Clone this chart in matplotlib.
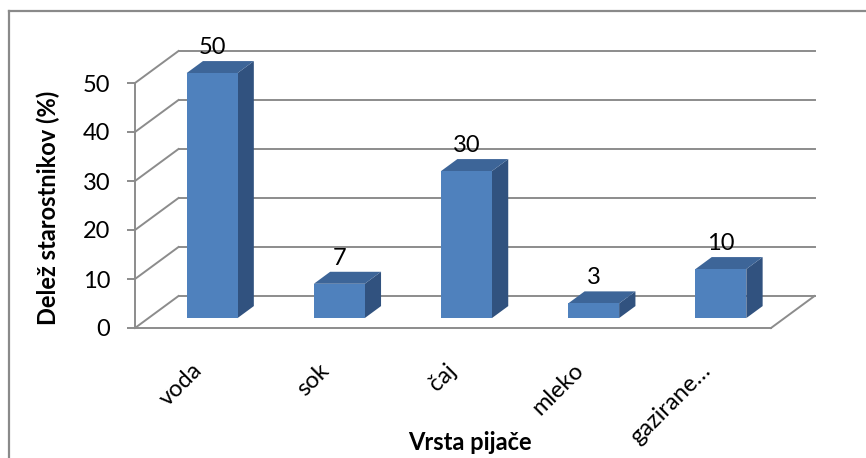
import matplotlib
matplotlib.use("Agg")
import matplotlib.pyplot as plt
from matplotlib.patches import Polygon
from matplotlib.lines import Line2D

plt.rcParams['font.family'] = ['Lato', 'DejaVu Sans']

categories = ["voda", "sok", "čaj", "mleko", "gazirane…"]
values = [50, 7, 30, 3, 10]
y_ticks = [0, 10, 20, 30, 40, 50]
y_title = "Delež starostnikov (%)"
x_title = "Vrsta pijače"

FRONT = "#4F81BD"
TOP = "#3D6598"
SIDE = "#31527F"
GRID = "#8C8C8C"
FS = 17

W, H = 866, 458
fig = plt.figure(figsize=(W / 100, H / 100), dpi=100)
fig.patch.set_facecolor("white")

# front plane of the 3-D box
ax = fig.add_axes([135 / W, (H - 328) / H, 636 / W, 245 / H])
ax.set_xlim(-0.5, len(categories) - 0.5)
ax.set_ylim(0, 50)
ax.set_facecolor("none")

# depth of the box (pixels) converted to data units
DX, DY = 43.5, 32.0
fig.canvas.draw()
p0 = ax.transData.transform((0, 0))
ux = ax.transData.transform((1, 0))[0] - p0[0]
uy = ax.transData.transform((0, 1))[1] - p0[1]
ddx, ddy = DX / ux, DY / uy

x_lo, x_hi = -0.5, len(categories) - 0.5

# back wall gridlines and left wall diagonals
for v in y_ticks:
    ax.add_line(Line2D([x_lo + ddx, x_hi + ddx], [v + ddy, v + ddy],
                       color=GRID, lw=1.4, clip_on=False, zorder=1))
    ax.add_line(Line2D([x_lo, x_lo + ddx], [v, v + ddy],
                       color=GRID, lw=1.4, clip_on=False, zorder=1))
# right edge of the floor
ax.add_line(Line2D([x_hi, x_hi + ddx], [0, ddy],
                   color=GRID, lw=1.4, clip_on=False, zorder=1))

# bars, placed in the middle of the depth
f1, f2 = 0.31, 0.685
bw = 0.40
bx = f1 * ddx
by = f1 * ddy
bdx = (f2 - f1) * ddx
bdy = (f2 - f1) * ddy
xs = [i + bx for i in range(len(categories))]
ax.bar(xs, values, width=bw, bottom=by, color=FRONT, zorder=3,
       clip_on=False, linewidth=0)
for x, v in zip(xs, values):
    x0, x1 = x - bw / 2, x + bw / 2
    top = by + v
    side = Polygon([(x1, by), (x1, top), (x1 + bdx, top + bdy), (x1 + bdx, by + bdy)],
                   closed=True, facecolor=SIDE, edgecolor="none", zorder=2.5,
                   clip_on=False)
    lid = Polygon([(x0, top), (x1, top), (x1 + bdx, top + bdy), (x0 + bdx, top + bdy)],
                  closed=True, facecolor=TOP, edgecolor="none", zorder=2.5,
                  clip_on=False)
    ax.add_patch(side)
    ax.add_patch(lid)
    ax.annotate(str(v), xy=(x, top), xytext=(0, 25.5 * 0.72),
                textcoords="offset points", ha="center", va="center",
                fontsize=FS, color="black", zorder=4, annotation_clip=False)

# axes styling
for s in ("top", "right"):
    ax.spines[s].set_visible(False)
for s in ("left", "bottom"):
    ax.spines[s].set_color(GRID)
    ax.spines[s].set_linewidth(1.4)
ax.set_yticks(y_ticks)
ax.set_yticklabels([str(t) for t in y_ticks], fontsize=FS)
ax.tick_params(axis="y", length=5.8, width=1.4, color=GRID, pad=12)
ax.set_xticks(range(len(categories)))
ax.set_xticklabels(categories, fontsize=FS)
ax.tick_params(axis="x", length=0, pad=28)
plt.setp(ax.get_xticklabels(), rotation=45, ha="right", va="center",
         rotation_mode="anchor")

ax.set_ylabel(y_title, fontsize=FS, fontweight="bold")
ax.yaxis.set_label_coords((48 - 135) / 636, (328 - 208) / 245)
ax.yaxis.label.set_verticalalignment("center")
ax.set_xlabel(x_title, fontsize=FS, fontweight="bold")
ax.xaxis.set_label_coords((470 - 135) / 636, (328 - 442) / 245)
ax.xaxis.label.set_verticalalignment("center")

# outer chart frame (left and top edges)
fig.add_artist(Line2D([8.5 / W, 8.5 / W], [0, (H - 11) / H], color="#8A8A8A",
                      lw=1.6, transform=fig.transFigure))
fig.add_artist(Line2D([8.5 / W, 1], [(H - 11) / H, (H - 11) / H], color="#8A8A8A",
                      lw=1.6, transform=fig.transFigure))

fig.savefig("out.png", dpi=100, facecolor="white")
